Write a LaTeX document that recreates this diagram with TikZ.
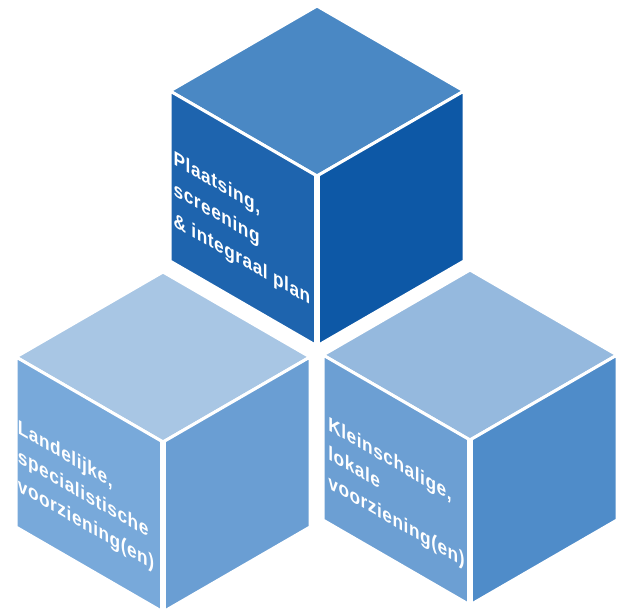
\documentclass[tikz,border=0pt]{standalone}
\usepackage{fontspec}
\setmainfont{Liberation Sans}
\newfontfamily\cubefont[LetterSpace=3]{Liberation Sans}
\definecolor{tTop}{HTML}{4A88C4}
\definecolor{tLeft}{HTML}{1E64AE}
\definecolor{tRight}{HTML}{0D58A6}
\definecolor{lTop}{HTML}{A8C6E4}
\definecolor{lLeft}{HTML}{78A9DA}
\definecolor{lRight}{HTML}{6A9ED3}
\definecolor{rTop}{HTML}{95B9DE}
\definecolor{rLeft}{HTML}{6C9FD3}
\definecolor{rRight}{HTML}{4F8CC9}
\newcommand\drawcube[6]{%
  \filldraw[fill=#4, face] (#1,#2) -- ++(-147,-85) -- ++(147,-85) -- ++(147,85) -- cycle;
  \filldraw[fill=#5, face] (#1,#2) -- ++(-147,-85) -- ++(0,#3) -- ++(147,85) -- cycle;
  \filldraw[fill=#6, face] (#1,#2) -- ++(147,-85) -- ++(0,#3) -- ++(-147,85) -- cycle;
  \draw[white, line width=6pt] (#1,#2) -- ++(0,#3);
}
\begin{document}
\begin{tikzpicture}[x=1pt,y=-1pt,
  face/.style={draw=white, line width=3pt, line join=round},
  lbl/.style={text=white, font=\cubefont\bfseries\fontsize{20}{29}\selectfont, align=left, anchor=base west, transform shape, inner sep=0pt}]
\useasboundingbox (0,0) rectangle (621,614);
\fill[white] (0,0) rectangle (621,614);
\drawcube{317}{176}{170}{tTop}{tLeft}{tRight}
\drawcube{163}{442}{170}{lTop}{lLeft}{lRight}
\drawcube{470}{440}{165}{rTop}{rLeft}{rRight}
\begin{scope}[shift={(170,91)}, cm={0.866,-0.5,0,1,(0,0)}]
  \node[lbl, font=\cubefont\bfseries\fontsize{20}{31}\selectfont] (toplbl) at (4,133) {Plaatsing,\\screening\\\& integraal plan};
\end{scope}
\begin{scope}[shift={(16,357)}, cm={0.866,-0.5,0,1,(0,0)}]
  \node[lbl] (leftlbl) at (2,133) {Landelijke,\\specialistische\\voorziening(en)};
\end{scope}
\begin{scope}[shift={(323,357)}, cm={0.866,-0.5,0,1,(0,0)}]
  \node[lbl] (rightlbl) at (6,128) {Kleinschalige,\\lokale\\voorziening(en)};
\end{scope}
\end{tikzpicture}
\end{document}
